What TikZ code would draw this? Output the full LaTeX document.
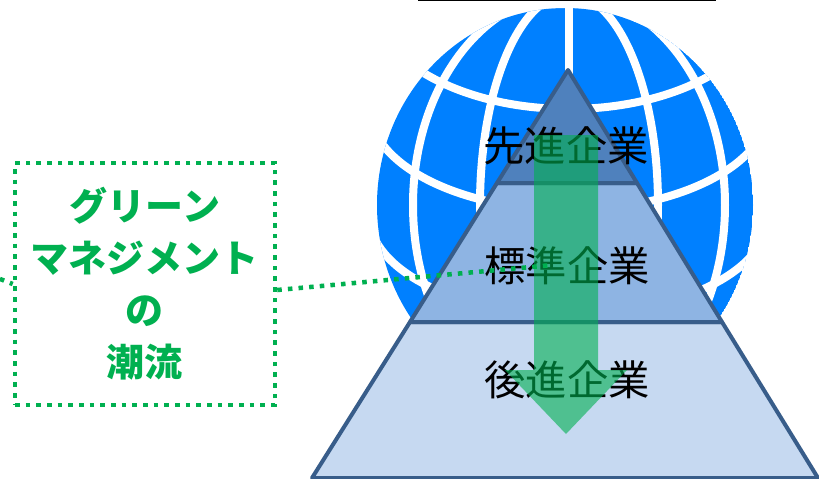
\documentclass[tikz,border=0pt]{standalone}
\usepackage{fontspec}
\newfontfamily\cjk{Noto Sans CJK JP}
\definecolor{globeblue}{RGB}{0,128,255}
\definecolor{tiertop}{RGB}{79,129,189}
\definecolor{tiermid}{RGB}{142,180,227}
\definecolor{tierlow}{RGB}{198,217,241}
\definecolor{tieredge}{RGB}{56,93,138}
\definecolor{flowgreen}{RGB}{0,176,80}
\begin{document}
\begin{tikzpicture}[x=0.75pt,y=-0.75pt,
  gridline/.style={draw=white,line width=6pt},
  tier/.style={draw=tieredge,line width=3pt,line join=round,line cap=round},
  tierlabel/.style={font=\cjk\fontsize{31}{31}\selectfont,text=black,inner sep=0pt},
  dotline/.style={draw=flowgreen,line width=3.4pt,dash pattern=on 3.4pt off 4.6pt},
  flowbox/.style={dotline,minimum width=195pt,minimum height=181.5pt,inner sep=0pt,
    align=center,text=flowgreen,font=\cjk\bfseries\fontsize{28.5}{39}\selectfont}]
\useasboundingbox (0,0) rectangle (819,479);
\clip (0,0) rectangle (819,479);

% title rule along the top edge
\coordinate (ruleL) at (418,0);
\coordinate (ruleR) at (716,0);
\draw[line width=1.5pt] (ruleL) -- (ruleR);

% globe with white meridians and parallels
\begin{scope}
  \clip (565,205) ellipse [x radius=188, y radius=197];
  \fill[globeblue] (565,205) ellipse [x radius=188, y radius=197];
  \draw[gridline] (569,205) ellipse [x radius=89, y radius=211];
  \draw[gridline] (569,205) ellipse [x radius=156, y radius=211];
  \draw[gridline] (569,-10) -- (569,420);
  \draw[gridline] (569,-6) ellipse [x radius=200, y radius=115];
  \draw[gridline] (569,107) ellipse [x radius=200, y radius=103];
  \draw[gridline] (769,215) arc [start angle=0, end angle=180, x radius=200, y radius=100];
\end{scope}

% pyramid tiers
\filldraw[tier,fill=tierlow] (410,322) -- (722,322) -- (818,478) -- (312,478) -- cycle;
\filldraw[tier,fill=tiermid] (497,183) -- (637,183) -- (722,322) -- (410,322) -- cycle;
\filldraw[tier,fill=tiertop] (568,70) -- (637,183) -- (497,183) -- cycle;

\node[tierlabel] (leading)  at (566,146) {先進企業};
\node[tierlabel] (standard) at (567,266) {標準企業};
\node[tierlabel] (lagging)  at (567,380) {後進企業};

% downward flow arrow
\fill[flowgreen,opacity=0.6] (534,135) -- (598,135) -- (598,370) -- (627,370)
  -- (566,434) -- (505,370) -- (534,370) -- cycle;

% caption box and its dotted leaders
\node[flowbox] (trend) at (145,284) {グリーン\\マネジメント\\の\\潮流};
\coordinate (leadin) at (-10,275);
\coordinate (flowend) at (553,265);
\draw[dotline] (leadin) -- (trend.west);
\draw[dotline] ([yshift=-4.5pt]trend.east) -- (flowend);
\end{tikzpicture}
\end{document}
